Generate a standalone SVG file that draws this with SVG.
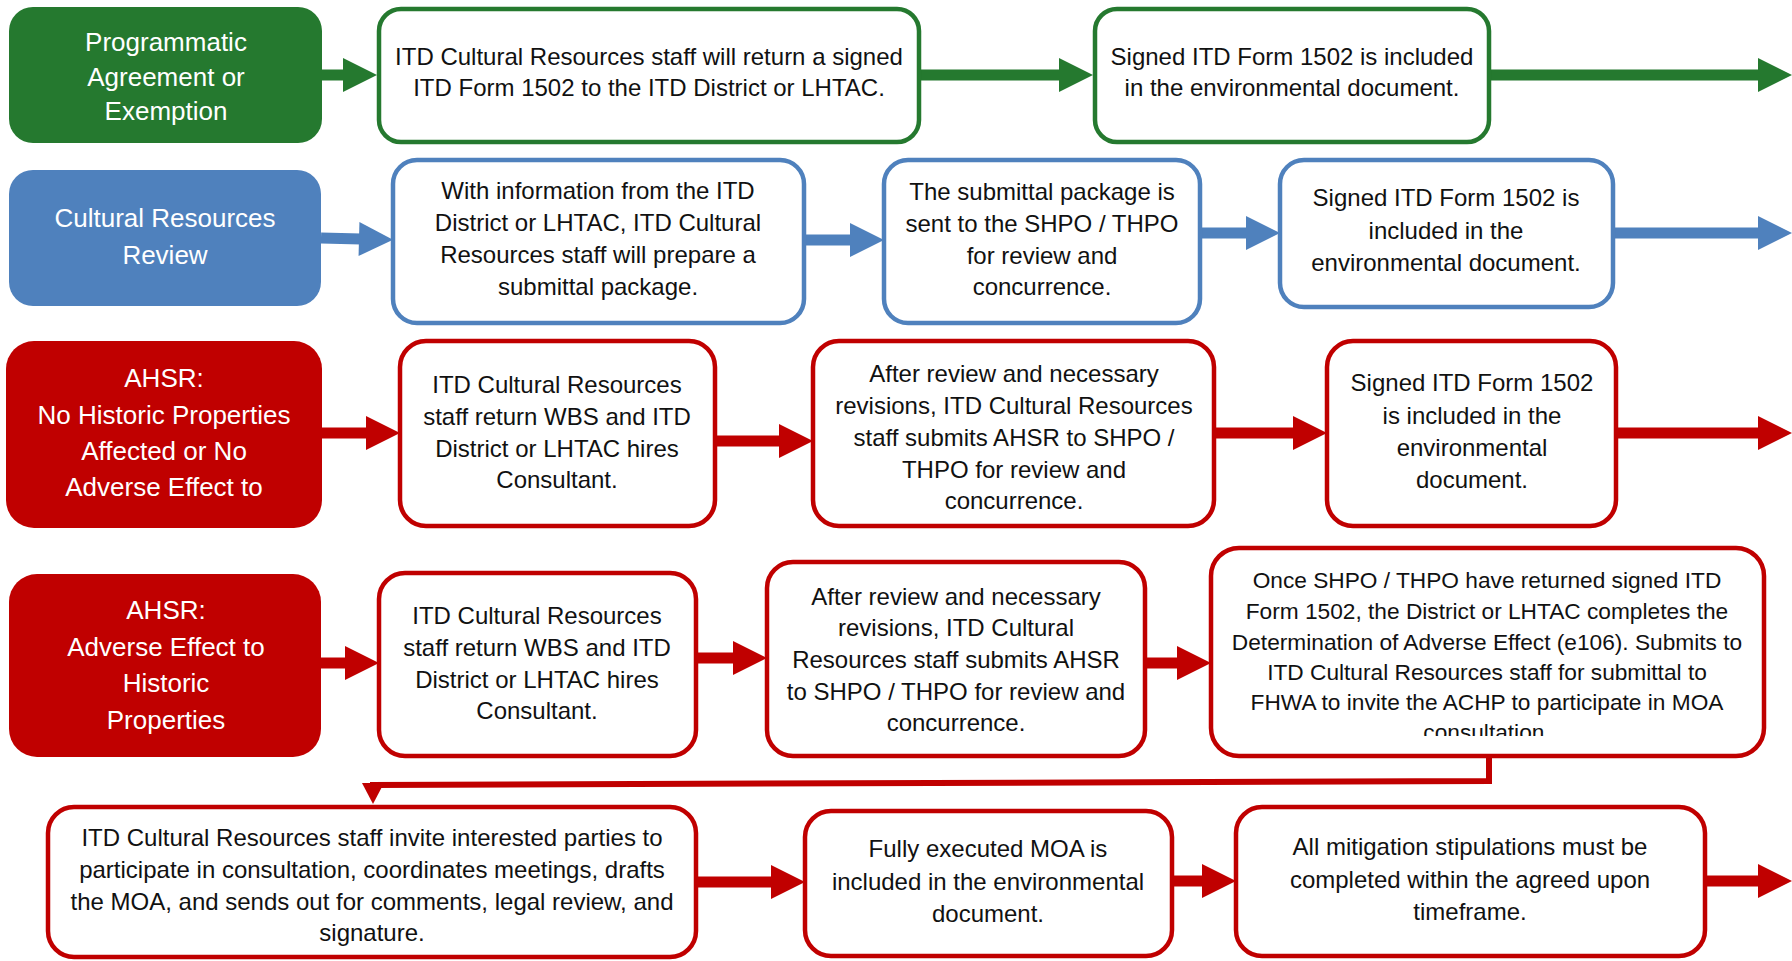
<svg xmlns="http://www.w3.org/2000/svg" width="1792" height="961" viewBox="0 0 1792 961">
<style>
  .lbl { font-family: "Liberation Sans", Arial, sans-serif; font-size: 26px; fill: #ffffff; text-anchor: middle; }
  .txt { font-family: "Liberation Sans", Arial, sans-serif; font-size: 24px; fill: #111111; text-anchor: middle; }
  .sm { font-size: 22.7px; }
  .box { fill: #ffffff; stroke-width: 4.5; }
  .g { stroke: #25792f; }
  .b { stroke: #4f81bd; }
  .r { stroke: #c00000; }
  .gf { fill: #25792f; }
  .bf { fill: #4f81bd; }
  .rf { fill: #c00000; }
  .arr { fill: none; stroke-width: 11; }
</style>
<defs>
  <marker id="hg" markerUnits="userSpaceOnUse" markerWidth="34" markerHeight="34" refX="2" refY="17" orient="auto" overflow="visible"><path d="M0,0 L34,17 L0,34 z" fill="#25792f"/></marker>
  <marker id="hb" markerUnits="userSpaceOnUse" markerWidth="34" markerHeight="34" refX="2" refY="17" orient="auto" overflow="visible"><path d="M0,0 L34,17 L0,34 z" fill="#4f81bd"/></marker>
  <marker id="hr" markerUnits="userSpaceOnUse" markerWidth="34" markerHeight="34" refX="2" refY="17" orient="auto" overflow="visible"><path d="M0,0 L34,17 L0,34 z" fill="#c00000"/></marker>
  <marker id="hrs" markerUnits="userSpaceOnUse" markerWidth="21" markerHeight="22" refX="3" refY="11" orient="auto" overflow="visible"><path d="M0,0 L21,11 L0,22 z" fill="#c00000"/></marker>
  <clipPath id="clip44"><rect x="1200" y="540" width="580" height="196"/></clipPath>
</defs>
<rect width="1792" height="961" fill="#ffffff"/>

<g id="connectors">
  <line class="arr g" x1="322" y1="75" x2="345" y2="75" marker-end="url(#hg)"/>
  <line class="arr g" x1="921" y1="75" x2="1061" y2="75" marker-end="url(#hg)"/>
  <line class="arr g" x1="1491" y1="75" x2="1760" y2="75" marker-end="url(#hg)"/>

  <line class="arr b" x1="321" y1="238" x2="361" y2="239" marker-end="url(#hb)"/>
  <line class="arr b" x1="806" y1="240" x2="852" y2="240" marker-end="url(#hb)"/>
  <line class="arr b" x1="1202" y1="233" x2="1248" y2="233" marker-end="url(#hb)"/>
  <line class="arr b" x1="1615" y1="233" x2="1760" y2="233" marker-end="url(#hb)"/>

  <line class="arr r" x1="322" y1="433" x2="368" y2="433" marker-end="url(#hr)"/>
  <line class="arr r" x1="717" y1="441" x2="781" y2="441" marker-end="url(#hr)"/>
  <line class="arr r" x1="1216" y1="433" x2="1295" y2="433" marker-end="url(#hr)"/>
  <line class="arr r" x1="1618" y1="433" x2="1760" y2="433" marker-end="url(#hr)"/>

  <line class="arr r" x1="321" y1="663" x2="347" y2="663" marker-end="url(#hr)"/>
  <line class="arr r" x1="698" y1="658" x2="735" y2="658" marker-end="url(#hr)"/>
  <line class="arr r" x1="1147" y1="663" x2="1179" y2="663" marker-end="url(#hr)"/>

  <path d="M1489,756 V781 L373,785 L373,786" fill="none" stroke="#c00000" stroke-width="6" marker-end="url(#hrs)"/>

  <line class="arr r" x1="698" y1="882" x2="773" y2="882" marker-end="url(#hr)"/>
  <line class="arr r" x1="1174" y1="881" x2="1204" y2="881" marker-end="url(#hr)"/>
  <line class="arr r" x1="1707" y1="881" x2="1760" y2="881" marker-end="url(#hr)"/>
</g>

<g id="n-programmatic">
  <rect x="9" y="7" width="313" height="136" rx="24" class="gf"/>
  <text class="lbl" x="166" y="51">Programmatic</text>
  <text class="lbl" x="166" y="86">Agreement or</text>
  <text class="lbl" x="166" y="120">Exemption</text>
</g>
<g id="n-g2">
  <rect x="379" y="9" width="540" height="133" rx="22" class="box g"/>
  <text class="txt" x="649" y="65">ITD Cultural Resources staff will return a signed</text>
  <text class="txt" x="649" y="96">ITD Form 1502 to the ITD District or LHTAC.</text>
</g>
<g id="n-g3">
  <rect x="1095" y="9" width="394" height="133" rx="22" class="box g"/>
  <text class="txt" x="1292" y="65">Signed ITD Form 1502 is included</text>
  <text class="txt" x="1292" y="96">in the environmental document.</text>
</g>

<g id="n-crr">
  <rect x="9" y="170" width="312" height="136" rx="24" class="bf"/>
  <text class="lbl" x="165" y="227">Cultural Resources</text>
  <text class="lbl" x="165" y="264">Review</text>
</g>
<g id="n-b2">
  <rect x="393" y="160" width="411" height="163" rx="24" class="box b"/>
  <text class="txt" x="598" y="199">With information from the ITD</text>
  <text class="txt" x="598" y="231">District or LHTAC, ITD Cultural</text>
  <text class="txt" x="598" y="263">Resources staff will prepare a</text>
  <text class="txt" x="598" y="295">submittal package.</text>
</g>
<g id="n-b3">
  <rect x="884" y="160" width="316" height="163" rx="24" class="box b"/>
  <text class="txt" x="1042" y="200">The submittal package is</text>
  <text class="txt" x="1042" y="232">sent to the SHPO / THPO</text>
  <text class="txt" x="1042" y="264">for review and</text>
  <text class="txt" x="1042" y="295">concurrence.</text>
</g>
<g id="n-b4">
  <rect x="1280" y="160" width="333" height="147" rx="24" class="box b"/>
  <text class="txt" x="1446" y="206">Signed ITD Form 1502 is</text>
  <text class="txt" x="1446" y="239">included in the</text>
  <text class="txt" x="1446" y="271">environmental document.</text>
</g>

<g id="n-ahsr1">
  <rect x="6" y="341" width="316" height="187" rx="28" class="rf"/>
  <text class="lbl" x="164" y="387">AHSR:</text>
  <text class="lbl" x="164" y="424">No Historic Properties</text>
  <text class="lbl" x="164" y="460">Affected or No</text>
  <text class="lbl" x="164" y="496">Adverse Effect to</text>
</g>
<g id="n-r32">
  <rect x="400" y="341" width="315" height="185" rx="26" class="box r"/>
  <text class="txt" x="557" y="393">ITD Cultural Resources</text>
  <text class="txt" x="557" y="425">staff return WBS and ITD</text>
  <text class="txt" x="557" y="457">District or LHTAC hires</text>
  <text class="txt" x="557" y="488">Consultant.</text>
</g>
<g id="n-r33">
  <rect x="813" y="341" width="401" height="185" rx="26" class="box r"/>
  <text class="txt" x="1014" y="382">After review and necessary</text>
  <text class="txt" x="1014" y="414">revisions, ITD Cultural Resources</text>
  <text class="txt" x="1014" y="446">staff submits AHSR to SHPO /</text>
  <text class="txt" x="1014" y="478">THPO for review and</text>
  <text class="txt" x="1014" y="509">concurrence.</text>
</g>
<g id="n-r34">
  <rect x="1327" y="341" width="289" height="185" rx="26" class="box r"/>
  <text class="txt" x="1472" y="391">Signed ITD Form 1502</text>
  <text class="txt" x="1472" y="424">is included in the</text>
  <text class="txt" x="1472" y="456">environmental</text>
  <text class="txt" x="1472" y="488">document.</text>
</g>

<g id="n-ahsr2">
  <rect x="9" y="574" width="312" height="183" rx="28" class="rf"/>
  <text class="lbl" x="166" y="619">AHSR:</text>
  <text class="lbl" x="166" y="656">Adverse Effect to</text>
  <text class="lbl" x="166" y="692">Historic</text>
  <text class="lbl" x="166" y="729">Properties</text>
</g>
<g id="n-r42">
  <rect x="379" y="573" width="317" height="183" rx="26" class="box r"/>
  <text class="txt" x="537" y="624">ITD Cultural Resources</text>
  <text class="txt" x="537" y="656">staff return WBS and ITD</text>
  <text class="txt" x="537" y="688">District or LHTAC hires</text>
  <text class="txt" x="537" y="719">Consultant.</text>
</g>
<g id="n-r43">
  <rect x="767" y="562" width="378" height="194" rx="26" class="box r"/>
  <text class="txt" x="956" y="605">After review and necessary</text>
  <text class="txt" x="956" y="636">revisions, ITD Cultural</text>
  <text class="txt" x="956" y="668">Resources staff submits AHSR</text>
  <text class="txt" x="956" y="700">to SHPO / THPO for review and</text>
  <text class="txt" x="956" y="731">concurrence.</text>
</g>
<g id="n-r44">
  <rect x="1211" y="548" width="553" height="208" rx="28" class="box r"/>
  <g clip-path="url(#clip44)">
    <text class="txt sm" x="1487" y="588">Once SHPO / THPO have returned signed ITD</text>
    <text class="txt sm" x="1487" y="619">Form 1502, the District or LHTAC completes the</text>
    <text class="txt sm" x="1487" y="650">Determination of Adverse Effect (e106). Submits to</text>
    <text class="txt sm" x="1487" y="680">ITD Cultural Resources staff for submittal to</text>
    <text class="txt sm" x="1487" y="710">FHWA to invite the ACHP to participate in MOA</text>
    <text class="txt sm" x="1487" y="740">consultation.</text>
  </g>
</g>

<g id="n-r51">
  <rect x="48" y="807" width="648" height="150" rx="26" class="box r"/>
  <text class="txt" x="372" y="846">ITD Cultural Resources staff invite interested parties to</text>
  <text class="txt" x="372" y="878">participate in consultation, coordinates meetings, drafts</text>
  <text class="txt" x="372" y="910">the MOA, and sends out for comments, legal review, and</text>
  <text class="txt" x="372" y="941">signature.</text>
</g>
<g id="n-r52">
  <rect x="805" y="811" width="367" height="145" rx="26" class="box r"/>
  <text class="txt" x="988" y="857">Fully executed MOA is</text>
  <text class="txt" x="988" y="890">included in the environmental</text>
  <text class="txt" x="988" y="922">document.</text>
</g>
<g id="n-r53">
  <rect x="1236" y="807" width="469" height="149" rx="26" class="box r"/>
  <text class="txt" x="1470" y="855">All mitigation stipulations must be</text>
  <text class="txt" x="1470" y="888">completed within the agreed upon</text>
  <text class="txt" x="1470" y="920">timeframe.</text>
</g>
</svg>
